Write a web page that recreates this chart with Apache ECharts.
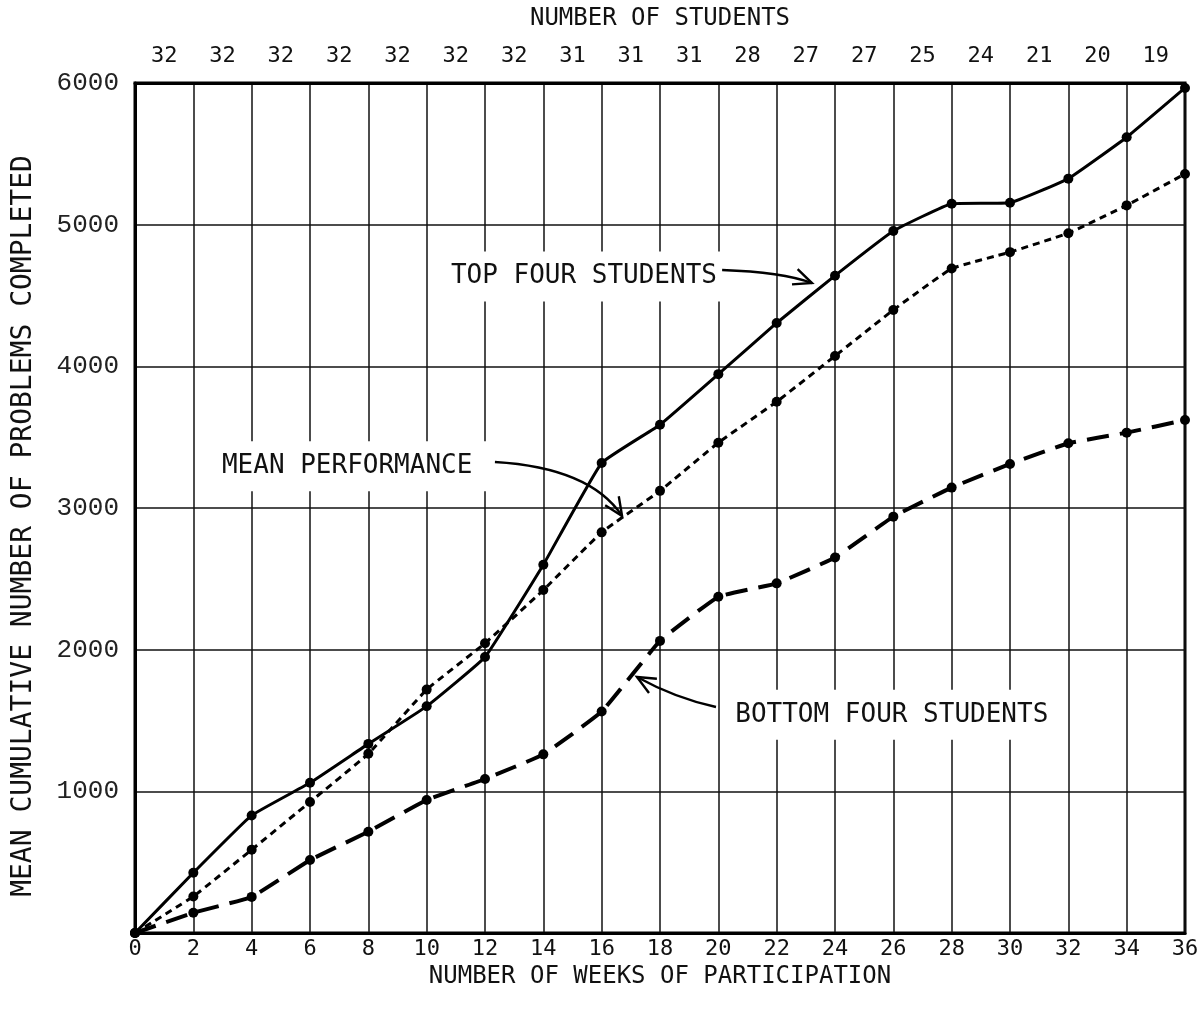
<!DOCTYPE html>
<html><head><meta charset="utf-8">
<script src="https://cdn.jsdelivr.net/npm/echarts@6/dist/echarts.min.js"></script>
<style>html,body{margin:0;padding:0;background:#fff}#c{width:1202px;height:1010px}</style>
</head><body><div id="c"></div>
<script>
const weeks = [0,2,4,6,8,10,12,14,16,18,20,22,24,26,28,30,32,34,36];
const studentCounts = ['32','32','32','32','32','32','32','31','31','31','28','27','27','25','24','21','20','19'];
const topFour = [0,425,830,1060,1335,1600,1948,2600,3318,3588,3945,4306,4640,4955,5148,5155,5325,5617,5965];
const meanPerf = [0,258,588,925,1265,1718,2045,2421,2828,3121,3461,3750,4073,4398,4690,4806,4940,5136,5358];
const bottomFour = [0,143,255,515,715,939,1087,1261,1563,2062,2373,2468,2651,2939,3144,3311,3457,3532,3621];
const labelTop = 'TOP FOUR STUDENTS';
const labelMean = 'MEAN PERFORMANCE';
const labelBottom = 'BOTTOM FOUR STUDENTS';
// annotation anchors in data space: [week, value]
const annTop = {text: labelTop, at: [10.35, 4635], from: [20.13, 4680], ctrl: [22.18, 4666], tip: [23.21, 4588]};
const annMean = {text: labelMean, at: [2.5, 3295], from: [12.34, 3325], ctrl: [15.6, 3285], tip: [16.70, 2944]};
const annBottom = {text: labelBottom, at: [20.1, 1540], from: [19.92, 1595], ctrl: [18.51, 1659], tip: [17.21, 1807]};

const MONO = '"DejaVu Sans Mono", monospace';
const chart = echarts.init(document.getElementById('c'), null, {renderer: 'canvas'});
const pairs = arr => weeks.map((w, i) => [w, arr[i]]);

chart.setOption({
  animation: false,
  backgroundColor: '#fff',
  grid: {left: 135, right: 17, top: 83, bottom: 77, show: true, borderColor: '#000', borderWidth: 3,
    backgroundColor: 'transparent', containLabel: false, outerBoundsMode: 'none'},
  xAxis: [{
    type: 'value', min: 0, max: 36, interval: 2, position: 'bottom',
    axisLine: {show: true, lineStyle: {color: '#000', width: 3}},
    axisTick: {show: false},
    splitLine: {show: true, lineStyle: {color: '#111', width: 1.5}},
    axisLabel: {color: '#111', fontFamily: MONO, fontSize: 22, margin: 5},
    name: 'NUMBER OF WEEKS OF PARTICIPATION', nameLocation: 'middle', nameGap: 26,
    nameTextStyle: {color: '#111', fontFamily: MONO, fontSize: 24}
  }, {
    type: 'category', data: studentCounts, position: 'top', boundaryGap: true,
    axisLine: {show: true, lineStyle: {color: '#000', width: 3}},
    axisTick: {show: false}, splitLine: {show: false},
    axisLabel: {color: '#111', fontFamily: MONO, fontSize: 22, margin: 16, interval: 0},
    name: 'NUMBER OF STUDENTS', nameLocation: 'middle', nameGap: 52,
    nameTextStyle: {color: '#111', fontFamily: MONO, fontSize: 24}
  }],
  yAxis: {
    type: 'value', min: 0, max: 6000, interval: 1000,
    axisLine: {show: true, lineStyle: {color: '#000', width: 3}},
    axisTick: {show: false},
    splitLine: {show: true, lineStyle: {color: '#111', width: 1.5}},
    axisLabel: {color: '#222', fontFamily: '"Liberation Mono", monospace', fontSize: 26, margin: 16,
      formatter: v => v === 0 ? '' : String(v)},
    name: 'MEAN CUMULATIVE NUMBER OF PROBLEMS COMPLETED', nameLocation: 'middle', nameGap: 97, nameRotate: 90,
    nameTextStyle: {color: '#111', fontFamily: MONO, fontSize: 28, padding: [0, 36, 0, 0]}
  },
  series: [
    {name: 'Top four', type: 'line', data: pairs(topFour), smooth: 0.1, symbol: 'circle', symbolSize: 10,
      lineStyle: {color: '#000', width: 3, type: 'solid'}, itemStyle: {color: '#000'}, z: 5},
    {name: 'Mean', type: 'line', data: pairs(meanPerf), smooth: 0.1, symbol: 'circle', symbolSize: 10,
      lineStyle: {color: '#000', width: 3, type: [7, 5]}, itemStyle: {color: '#000'}, z: 5},
    {name: 'Bottom four', type: 'line', data: pairs(bottomFour), smooth: 0.1, symbol: 'circle', symbolSize: 10,
      lineStyle: {color: '#000', width: 4, type: [22, 11]}, itemStyle: {color: '#000'}, z: 5}
  ]
});

function buildAnnotation(a) {
  const p = v => chart.convertToPixel({xAxisIndex: 0, yAxisIndex: 0}, v);
  const at = p(a.at), s = p(a.from), c = p(a.ctrl), t = p(a.tip);
  const els = [];
  els.push({type: 'text', z: 1, x: at[0], y: at[1],
    style: {text: a.text, fill: '#111', font: '26px ' + MONO, textVerticalAlign: 'middle', textAlign: 'left',
      backgroundColor: '#fff', padding: [12, 14, 12, 14]}});
  els.push({type: 'bezierCurve', z: 6, shape: {x1: s[0], y1: s[1], x2: t[0], y2: t[1], cpx1: c[0], cpy1: c[1]},
    style: {stroke: '#000', lineWidth: 2.4, fill: null}});
  const ang = Math.atan2(t[1] - c[1], t[0] - c[0]);
  const L = 20, da = 0.42;
  const b1 = [t[0] - L * Math.cos(ang - da), t[1] - L * Math.sin(ang - da)];
  const b2 = [t[0] - L * Math.cos(ang + da), t[1] - L * Math.sin(ang + da)];
  els.push({type: 'polyline', z: 6, shape: {points: [b1, t, b2]}, style: {stroke: '#000', lineWidth: 2.4, fill: null}});
  return els;
}
chart.setOption({graphic: [].concat(buildAnnotation(annTop), buildAnnotation(annMean), buildAnnotation(annBottom))});
</script></body></html>
